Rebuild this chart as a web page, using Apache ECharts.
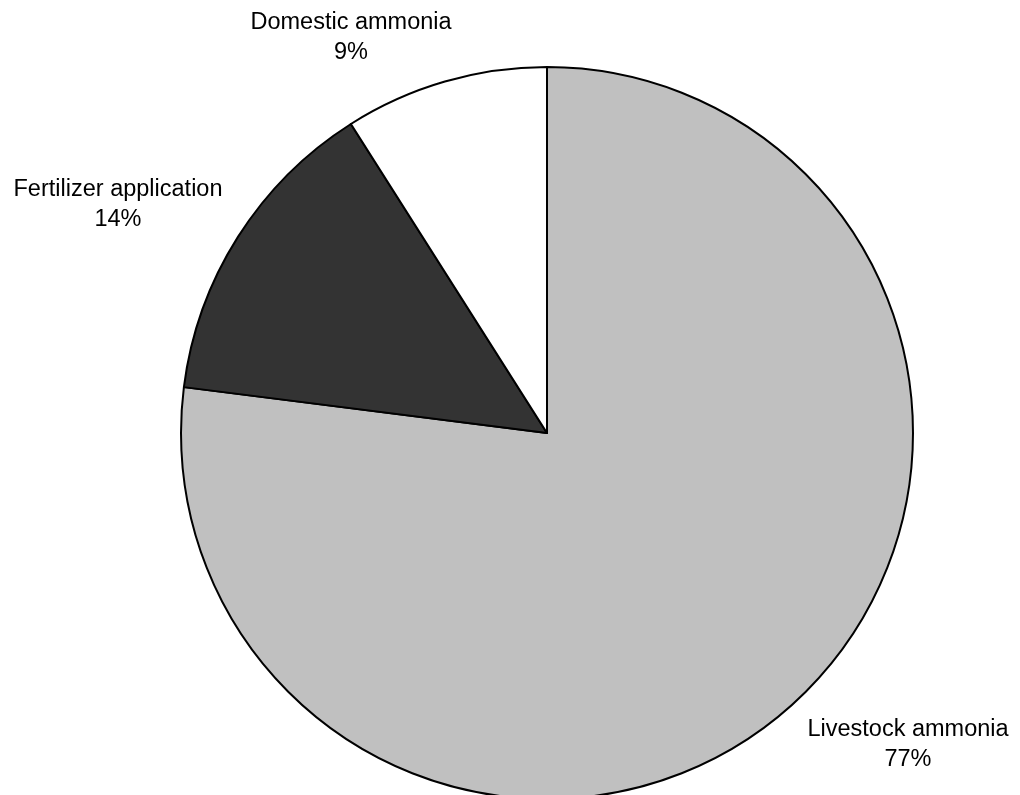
<!DOCTYPE html>
<html>
<head>
<meta charset="utf-8">
<script src="https://cdn.jsdelivr.net/npm/echarts@6/dist/echarts.min.js"></script>
<style>
  html, body { margin: 0; padding: 0; background: #ffffff; }
  #chart { width: 1020px; height: 795px; }
</style>
</head>
<body>
<div id="chart"></div>
<script>
// Sources of ammonia emissions (share of total, %)
const categories = ['Livestock ammonia', 'Fertilizer application', 'Domestic ammonia'];
const shares = [77, 14, 9];

// Slice fills, in the same order as the categories
const sliceColors = ['#c0c0c0', '#333333', '#ffffff'];

// Where each two-line label block is centred
const labelSpots = [
  { x: 908, y: 745 },
  { x: 118, y: 205 },
  { x: 351, y: 38 }
];

const chart = echarts.init(document.getElementById('chart'), null, { renderer: 'canvas' });

chart.setOption({
  animation: false,
  backgroundColor: '#ffffff',
  series: [{
    type: 'pie',
    center: [547, 433],
    radius: 366,
    startAngle: 90,
    clockwise: true,
    avoidLabelOverlap: false,
    percentPrecision: 0,
    data: categories.map((name, i) => ({
      name: name,
      value: shares[i],
      itemStyle: { color: sliceColors[i] }
    })),
    itemStyle: { borderColor: '#000000', borderWidth: 2 },
    emphasis: { disabled: true },
    label: {
      show: true,
      position: 'outside',
      formatter: '{b}\n{d}%',
      fontFamily: '"Liberation Sans", Arial, sans-serif',
      fontSize: 23.5,
      lineHeight: 30,
      color: '#000000',
      align: 'center'
    },
    labelLine: { show: false },
    labelLayout: function (params) {
      const spot = labelSpots[params.dataIndex];
      return { x: spot.x, y: spot.y, align: 'center', verticalAlign: 'middle', hideOverlap: false };
    }
  }]
});
</script>
</body>
</html>
